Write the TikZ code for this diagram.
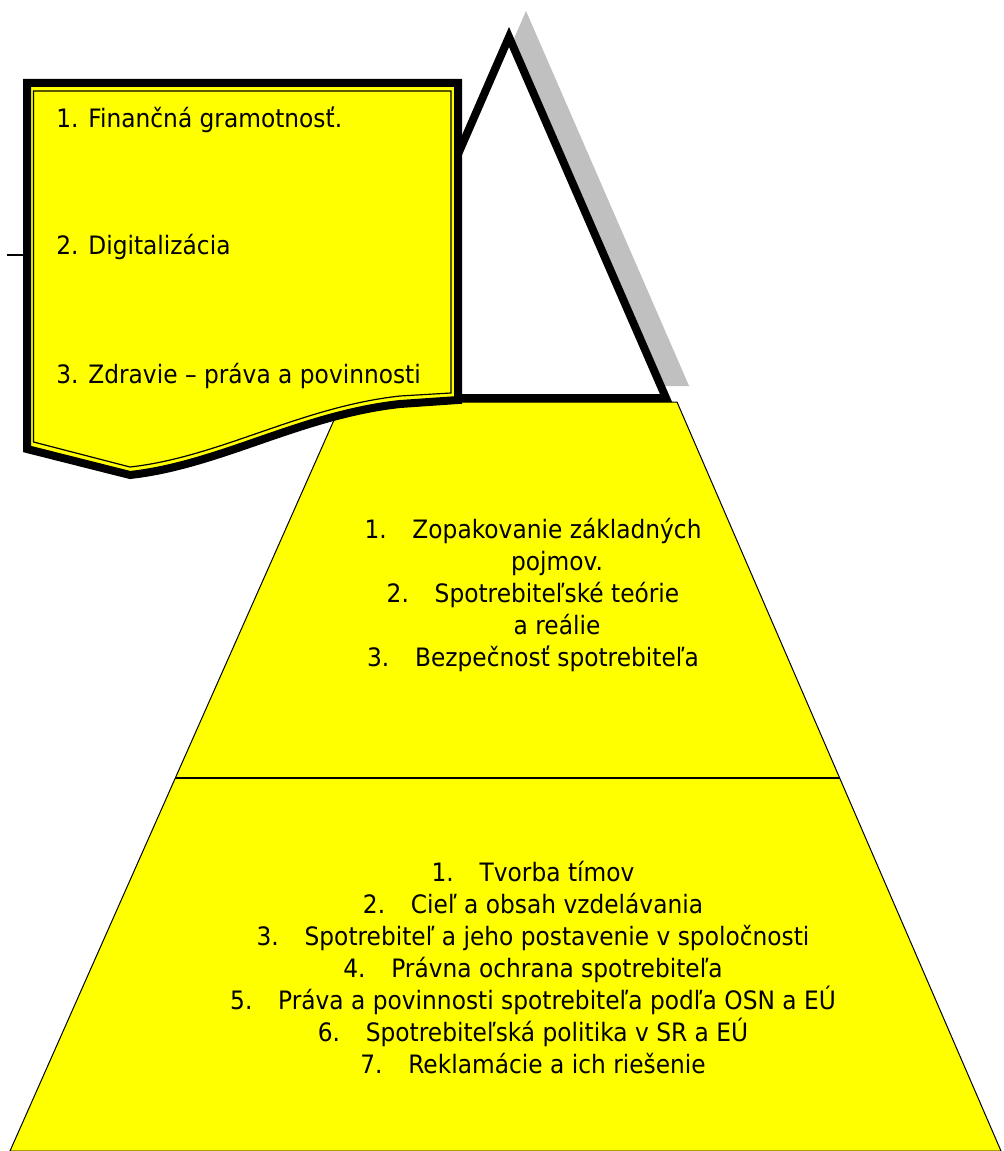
\documentclass[tikz,border=0pt]{standalone}
\usepackage{fontspec}
\setmainfont{DejaVu Sans}[FakeStretch=0.92]
\usetikzlibrary{calc}

\definecolor{pyryellow}{HTML}{FFFF00}
\definecolor{shadowgray}{HTML}{C0C0C0}
% number followed by a tab stop
\newcommand{\numtab}[1]{\makebox[36pt][l]{#1}}

\begin{document}
\begin{tikzpicture}[x=0.75pt,y=-0.75pt,
    item/.style={anchor=base, inner sep=0pt, font=\fontsize{19}{23}\selectfont},
    docitem/.style={item, anchor=base west},
    heavy/.style={line width=6pt, line join=miter},
  ]
  \useasboundingbox (0,0) rectangle (1003,1151);

  % base of the pyramid
  \coordinate (tl) at (342,402);
  \coordinate (tr) at (677,402);
  \coordinate (br) at (1001,1151);
  \coordinate (bl) at (10,1151);
  \draw[fill=pyryellow, line width=0.75pt] (tl) -- (tr) -- (br) -- (bl) -- cycle;
  \draw[line width=1.2pt] ($(tl)!0.502!(bl)$) -- ($(tr)!0.502!(br)$);

  % top of the pyramid with its shadow
  \path[fill=shadowgray, draw=shadowgray, heavy, shift={(17,-16)}] (509,37) -- (666,398) -- (352,398) -- cycle;
  \draw[fill=white, heavy] (509,37) -- (666,398) -- (352,398) -- cycle;

  % document box
  \draw[line width=1.2pt] (7,255) -- (23,255);
  \draw[fill=pyryellow, heavy] (27,83) -- (458,83) -- (458,400) -- (400,404)
    .. controls (300,415) and (220,465) .. (130,475) -- (27,449) -- cycle;
  \draw[line width=0.9pt] (33.5,91) -- (451,91) -- (451,393) -- (400,396)
    .. controls (300,407) and (220,457) .. (130,467) -- (33.5,442) -- cycle;

  \node[docitem] (doc1) at (56,128) {1. Finančná gramotnosť.};
  \node[docitem] (doc2) at (56,255) {2. Digitalizácia};
  \node[docitem] (doc3) at (56,383) {3. Zdravie – práva a povinnosti};

  % middle level
  \node[item] (mid1)  at (533,538) {\numtab{1.}Zopakovanie základných};
  \node[item] (mid1b) at (533,570) {\hspace*{36pt}pojmov.};
  \node[item] (mid2)  at (533,602) {\numtab{2.}Spotrebiteľské teórie};
  \node[item] (mid2b) at (533,634) {\hspace*{36pt}a reálie};
  \node[item] (mid3)  at (533,666) {\numtab{3.}Bezpečnosť spotrebiteľa};

  % bottom level
  \foreach \txt [count=\i] in {Tvorba tímov, Cieľ a obsah vzdelávania,
      Spotrebiteľ a jeho postavenie v spoločnosti, Právna ochrana spotrebiteľa,
      Práva a povinnosti spotrebiteľa podľa OSN a EÚ, Spotrebiteľská politika v SR a EÚ,
      Reklamácie a ich riešenie}
    \node[item] (low\i) at (533,849+32*\i) {\numtab{\i.}\txt};
\end{tikzpicture}
\end{document}
